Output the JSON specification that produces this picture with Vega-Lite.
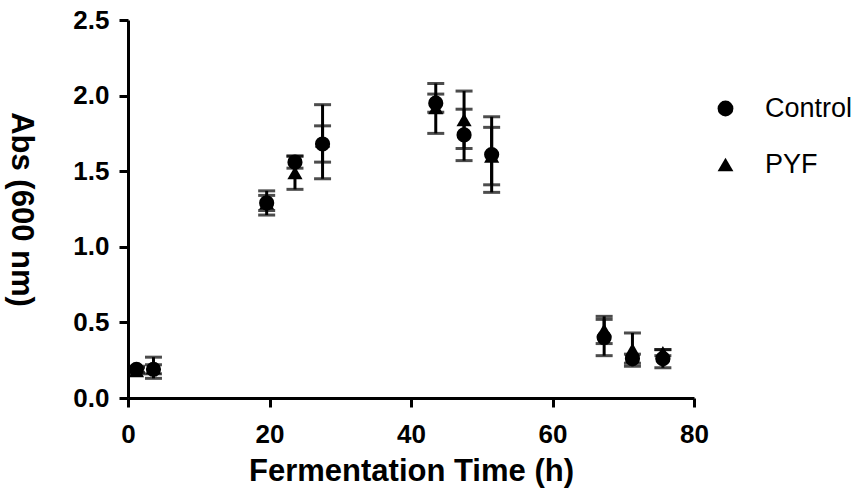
{
  "$schema": "https://vega.github.io/schema/vega-lite/v6.json",
  "autosize": {"type": "none"},
  "width": 566,
  "height": 378,
  "padding": {"left": 128, "top": 20, "right": 173, "bottom": 101},
  "background": "white",
  "config": {
    "view": {"stroke": null},
    "font": "Liberation Sans",
    "axis": {
      "domainColor": "black",
      "domainWidth": 3,
      "tickColor": "black",
      "tickWidth": 3,
      "tickSize": 9,
      "grid": false,
      "labelFont": "Liberation Sans",
      "labelFontWeight": "bold",
      "labelFontSize": 26,
      "labelColor": "black",
      "titleFont": "Liberation Sans",
      "titleFontWeight": "bold",
      "titleFontSize": 31,
      "titleColor": "black"
    }
  },
  "data": {
    "values": [
      {"t": 1.2, "series": "PYF", "mean": 0.18, "lo": 0.16, "hi": 0.20},
      {"t": 3.6, "series": "PYF", "mean": 0.20, "lo": 0.13, "hi": 0.27},
      {"t": 19.6, "series": "PYF", "mean": 1.29, "lo": 1.24, "hi": 1.34},
      {"t": 23.6, "series": "PYF", "mean": 1.49, "lo": 1.38, "hi": 1.60},
      {"t": 27.5, "series": "PYF", "mean": 1.70, "lo": 1.45, "hi": 1.94},
      {"t": 43.5, "series": "PYF", "mean": 1.92, "lo": 1.75, "hi": 2.08},
      {"t": 47.5, "series": "PYF", "mean": 1.84, "lo": 1.65, "hi": 2.03},
      {"t": 51.4, "series": "PYF", "mean": 1.60, "lo": 1.41, "hi": 1.79},
      {"t": 67.3, "series": "PYF", "mean": 0.45, "lo": 0.36, "hi": 0.54},
      {"t": 71.3, "series": "PYF", "mean": 0.32, "lo": 0.21, "hi": 0.43},
      {"t": 75.6, "series": "PYF", "mean": 0.30, "lo": 0.28, "hi": 0.32},
      {"t": 1.2, "series": "Control", "mean": 0.19, "lo": 0.17, "hi": 0.21},
      {"t": 3.6, "series": "Control", "mean": 0.19, "lo": 0.16, "hi": 0.22},
      {"t": 19.6, "series": "Control", "mean": 1.29, "lo": 1.21, "hi": 1.37},
      {"t": 23.6, "series": "Control", "mean": 1.56, "lo": 1.52, "hi": 1.60},
      {"t": 27.5, "series": "Control", "mean": 1.68, "lo": 1.56, "hi": 1.80},
      {"t": 43.5, "series": "Control", "mean": 1.95, "lo": 1.89, "hi": 2.01},
      {"t": 47.5, "series": "Control", "mean": 1.74, "lo": 1.57, "hi": 1.91},
      {"t": 51.4, "series": "Control", "mean": 1.61, "lo": 1.36, "hi": 1.86},
      {"t": 67.3, "series": "Control", "mean": 0.40, "lo": 0.28, "hi": 0.52},
      {"t": 71.3, "series": "Control", "mean": 0.26, "lo": 0.23, "hi": 0.29},
      {"t": 75.6, "series": "Control", "mean": 0.26, "lo": 0.20, "hi": 0.32}
    ]
  },
  "encoding": {
    "x": {
      "field": "t",
      "type": "quantitative",
      "scale": {"domain": [0, 80], "nice": false},
      "axis": {"values": [0, 20, 40, 60, 80], "title": "Fermentation Time (h)", "labelFlush": false, "labelPadding": 14, "titlePadding": 9}
    }
  },
  "layer": [
    {
      "mark": {"type": "errorbar", "thickness": 3, "color": "black", "ticks": {"size": 17, "color": "black"}},
      "encoding": {
        "y": {
          "field": "lo",
          "type": "quantitative",
          "title": "Abs (600 nm)",
          "scale": {"domain": [0, 2.5], "nice": false},
          "axis": {"values": [0, 0.5, 1, 1.5, 2, 2.5], "format": ".1f", "title": "Abs (600 nm)", "titleAngle": 90, "titleX": -108, "titleBaseline": "middle", "labelPadding": 10}
        },
        "y2": {"field": "hi"}
      }
    },
    {
      "mark": {"type": "point", "filled": true, "opacity": 1, "color": "black", "size": 230},
      "encoding": {
        "y": {
          "field": "mean",
          "type": "quantitative",
          "title": "Abs (600 nm)",
          "scale": {"domain": [0, 2.5], "nice": false},
          "axis": {"values": [0, 0.5, 1, 1.5, 2, 2.5], "format": ".1f", "title": "Abs (600 nm)", "titleAngle": 90, "titleX": -108, "titleBaseline": "middle", "labelPadding": 10}
        },
        "shape": {
          "field": "series",
          "type": "nominal",
          "scale": {"domain": ["Control", "PYF"], "range": ["circle", "triangle-up"]},
          "legend": {
            "title": null,
            "orient": "none",
            "legendX": 584,
            "legendY": 75,
            "symbolSize": 250,
            "symbolFillColor": "black",
            "symbolStrokeColor": "black",
            "symbolStrokeWidth": 0,
            "labelFont": "Liberation Sans",
            "labelFontSize": 27,
            "labelColor": "black",
            "labelOffset": 26,
            "rowPadding": 28
          }
        }
      }
    }
  ]
}
